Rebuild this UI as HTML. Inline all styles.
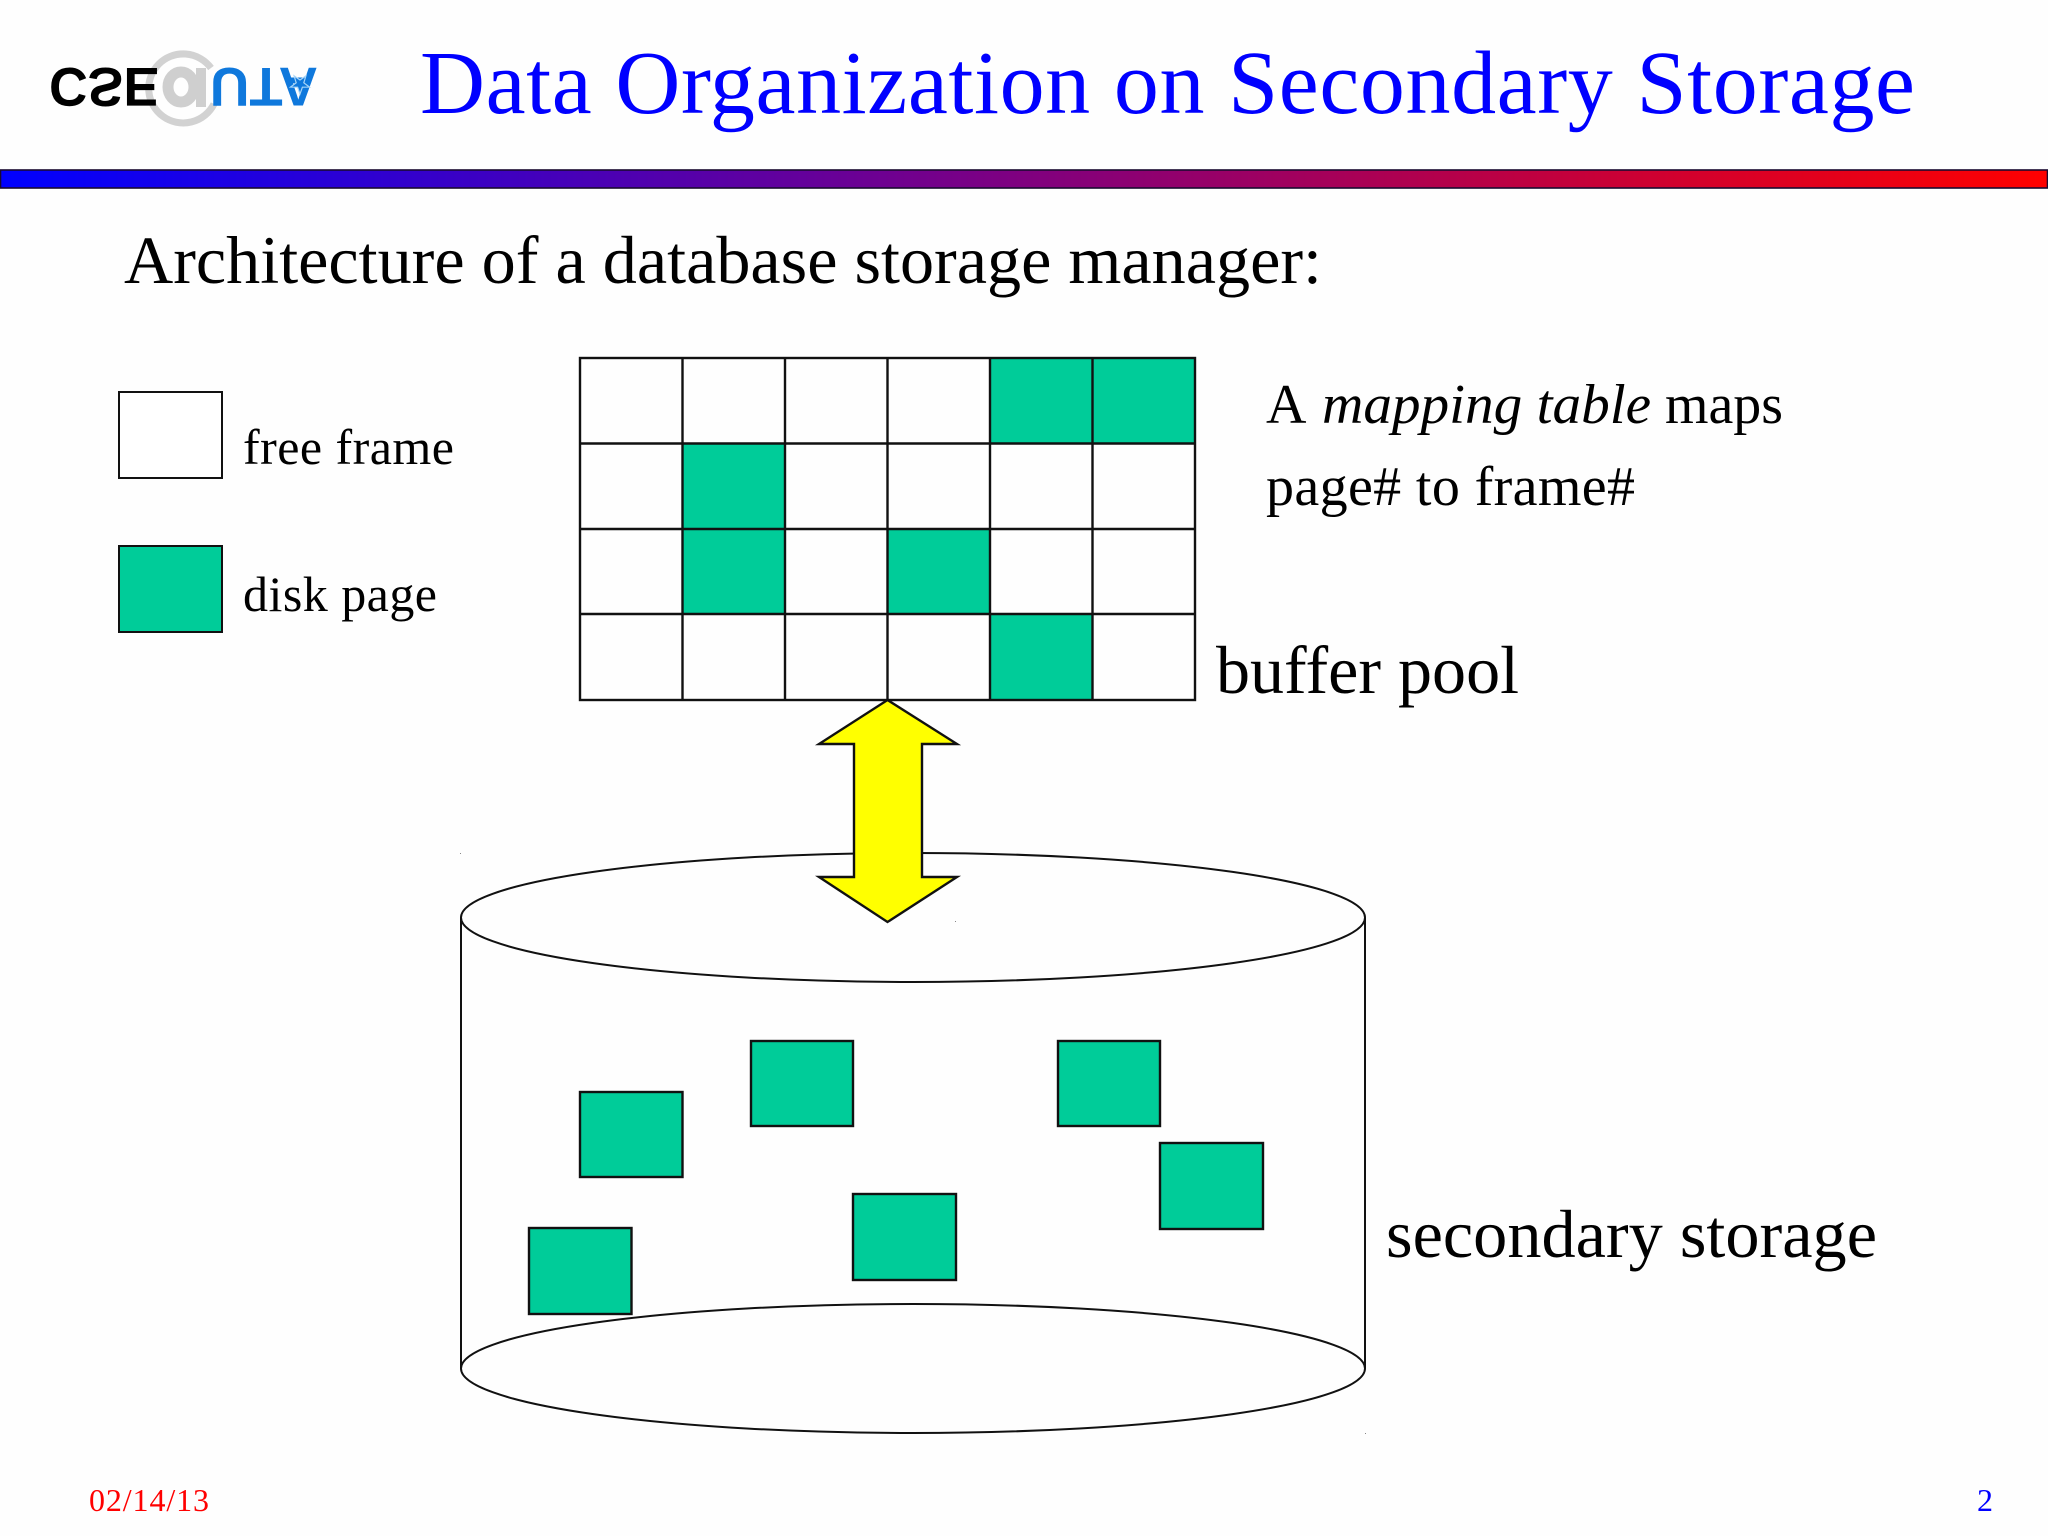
<!DOCTYPE html>
<html><head><meta charset="utf-8"><style>
html,body{margin:0;padding:0;background:#fefefe}
svg{display:block}
text{font-family:"Liberation Serif",serif;white-space:pre}
</style></head><body>
<svg width="2048" height="1536" viewBox="0 0 2048 1536" xmlns="http://www.w3.org/2000/svg">
<defs><linearGradient id="g" x1="0" x2="1" y1="0" y2="0"><stop offset="0" stop-color="#0000ff"/><stop offset="1" stop-color="#ff0000"/></linearGradient></defs>
<rect width="2048" height="1536" fill="#fefefe"/>

<!-- logo -->
<g>
<path d="M211 68 A34.5 34.5 0 1 0 214 104" fill="none" stroke="#d2d2d2" stroke-width="7"/>
<ellipse cx="181" cy="87" rx="13" ry="15" fill="none" stroke="#cfcfcf" stroke-width="11"/>
<rect x="196" y="68" width="10" height="39" fill="#cfcfcf"/>
<g transform="translate(0,68) scale(1,-1)">
<text x="49" y="0" font-size="55" font-weight="bold" style="font-family:'Liberation Sans',sans-serif" fill="#000" textLength="110" lengthAdjust="spacingAndGlyphs">CSE</text>
<text x="210" y="0" font-size="55" font-weight="bold" style="font-family:'Liberation Sans',sans-serif" fill="#0f78dc" textLength="108" lengthAdjust="spacingAndGlyphs">UTA</text>
</g>
<polygon points="300,94 297.6,87.2 290.5,87.1 296.2,82.8 294.1,75.9 300,80 305.9,75.9 303.8,82.8 309.5,87.1 302.4,87.2" fill="#0f78dc" stroke="#a9d6f8" stroke-width="1.2"/>
</g>

<text x="420" y="113" font-size="90" fill="#0000ff" textLength="1495" lengthAdjust="spacing">Data Organization on Secondary Storage</text>

<rect x="0.5" y="170" width="2047" height="18" fill="url(#g)" stroke="#1a0a30" stroke-width="1.6"/>

<text x="124" y="283" font-size="68" fill="#000" textLength="1198" lengthAdjust="spacingAndGlyphs">Architecture of a database storage manager:</text>

<!-- legend -->
<rect x="119" y="392" width="103" height="86" fill="#fff" stroke="#111" stroke-width="2"/>
<rect x="119" y="546" width="103" height="86" fill="#00cc99" stroke="#111" stroke-width="2"/>
<text x="243" y="464" font-size="50" textLength="211" lengthAdjust="spacing">free frame</text>
<text x="243" y="611" font-size="50" textLength="194" lengthAdjust="spacing">disk page</text>

<!-- grid fills -->
<g fill="#00cc99">
<rect x="990" y="358" width="102.5" height="85.5"/>
<rect x="1092.5" y="358" width="102.5" height="85.5"/>
<rect x="682.5" y="443.5" width="102.5" height="85.5"/>
<rect x="682.5" y="529" width="102.5" height="85"/>
<rect x="887.5" y="529" width="102.5" height="85"/>
<rect x="990" y="614" width="102.5" height="86"/>
</g>
<g fill="none" stroke="#111" stroke-width="2.4">
<rect x="580" y="358" width="615" height="342"/>
<path d="M682.5 358V700M785 358V700M887.5 358V700M990 358V700M1092.5 358V700M580 443.5H1195M580 529H1195M580 614H1195"/>
</g>

<text x="1266" y="423" font-size="56">A</text>
<text x="1322" y="423" font-size="56" font-style="italic" textLength="329" lengthAdjust="spacingAndGlyphs">mapping table</text>
<text x="1665" y="423" font-size="56" textLength="118" lengthAdjust="spacingAndGlyphs">maps</text>
<text x="1266" y="505" font-size="56" textLength="369" lengthAdjust="spacing">page# to frame#</text>
<text x="1216" y="693" font-size="68" textLength="303" lengthAdjust="spacingAndGlyphs">buffer pool</text>

<!-- cylinder -->
<path d="M461 917.5V1368.5M1365 917.5V1368.5" stroke="#111" stroke-width="2" fill="none"/>
<ellipse cx="913" cy="917.5" rx="452" ry="64.5" fill="#fefefe" stroke="#111" stroke-width="2"/>

<g fill="#00cc99" stroke="#111" stroke-width="2.4">
<rect x="580" y="1092" width="102.5" height="85"/>
<rect x="751" y="1041" width="102" height="85"/>
<rect x="1058" y="1041" width="102" height="85"/>
<rect x="1160" y="1143" width="103" height="86"/>
<rect x="853" y="1194" width="103" height="86"/>
<rect x="529" y="1228" width="102.5" height="86"/>
</g>
<ellipse cx="913" cy="1368.5" rx="452" ry="64.5" fill="#fefefe" stroke="#111" stroke-width="2"/>

<!-- arrow -->
<polygon points="887.5,700 957,744 922,744 922,877 957,877 887.5,922 819,877 854,877 854,744 819,744" fill="#ffff00" stroke="#111" stroke-width="2.4" stroke-linejoin="miter"/>

<text x="1386" y="1257" font-size="68" textLength="491" lengthAdjust="spacingAndGlyphs">secondary storage</text>

<rect x="460" y="853" width="1" height="1" fill="#888"/>
<rect x="955" y="921" width="1" height="1" fill="#888"/>
<rect x="1365" y="1433" width="1" height="1" fill="#888"/>

<text x="89" y="1511" font-size="32" fill="#ff0000" textLength="120" lengthAdjust="spacing">02/14/13</text>
<text x="1977" y="1511" font-size="32" fill="#0000ff">2</text>
</svg>
</body></html>
